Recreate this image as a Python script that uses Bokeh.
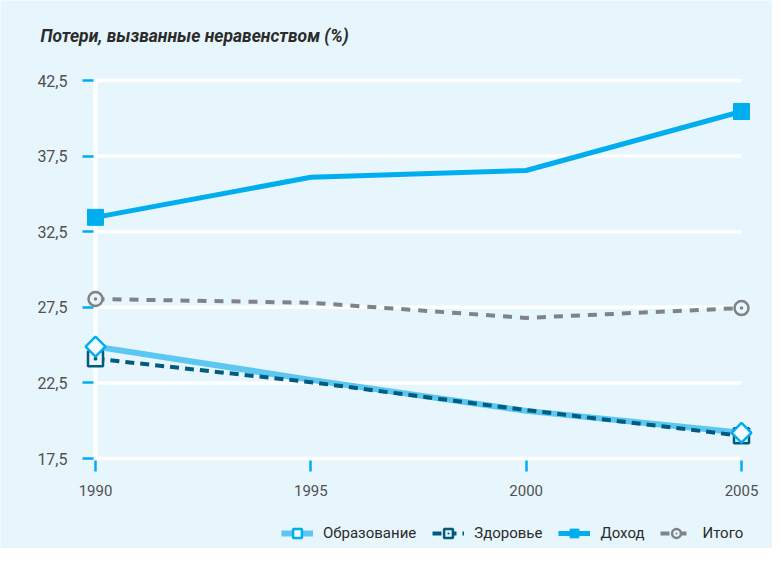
import math
from bokeh.plotting import figure
from bokeh.models import Range1d, LinearAxis, FixedTicker, Label, Legend, LegendItem
from bokeh.embed import file_html
from bokeh.resources import INLINE

# ---- data ----
years = [1990, 1995, 2000, 2005]
education = [24.9, 22.7, 20.65, 19.2]
health = [24.1, 22.55, 20.7, 19.0]
income = [33.45, 36.1, 36.55, 40.45]
total = [28.05, 27.8, 26.8, 27.45]
y_ticks = [17.5, 22.5, 27.5, 32.5, 37.5, 42.5]
y_tick_labels = ["17,5", "22,5", "27,5", "32,5", "37,5", "42,5"]
x_tick_labels = ["1990", "1995", "2000", "2005"]
series_names = ["Образование", "Здоровье", "Доход", "Итого"]
title_text = "Потери, вызванные неравенством (%)"

BG = "#E7F6FD"
CYAN = "#00AEEF"
LIGHT = "#5CC8F2"
DARK = "#005B7F"
GRAY = "#808285"
FONT = "Roboto"

W, H = 772, 548
px_per_year = 646 / 15.0
px_per_unit = 378 / 25.0
X1990, Y425, Y175 = 95, 80, 458
x0 = 1990 - X1990 / px_per_year
x1 = 1990 + (W - X1990) / px_per_year
y1 = 42.5 + Y425 / px_per_unit
y0 = 17.5 - (H - Y175) / px_per_unit

p = figure(width=W, height=H, output_backend="svg", toolbar_location=None,
           x_range=Range1d(x0, x1), y_range=Range1d(y0, y1),
           x_axis_location=None, y_axis_location=None,
           min_border=0, min_border_left=0, min_border_right=0,
           min_border_top=0, min_border_bottom=0)
p.background_fill_color = BG
p.border_fill_color = BG
p.outline_line_color = None
p.xgrid.visible = False
p.ygrid.visible = False

# grid lines limited to data extent
p.segment(x0=[years[0]] * len(y_ticks), x1=[years[-1]] * len(y_ticks),
          y0=y_ticks, y1=y_ticks, line_color="white", line_width=3.5)
p.segment(x0=[years[0]], x1=[years[0]], y0=[y_ticks[0]], y1=[y_ticks[-1]],
          line_color="white", line_width=4)

# axes
yaxis = LinearAxis(fixed_location=years[0], bounds=(y_ticks[0], y_ticks[-1]))
yaxis.ticker = FixedTicker(ticks=y_ticks)
yaxis.major_label_overrides = {t: l for t, l in zip(y_ticks, y_tick_labels)}
yaxis.axis_line_color = None
yaxis.major_tick_line_color = CYAN
yaxis.major_tick_line_width = 2.5
yaxis.major_tick_out = 13
yaxis.major_tick_in = -2
yaxis.minor_tick_line_color = None
yaxis.major_label_text_font = FONT
yaxis.major_label_text_font_size = "16px"
yaxis.major_label_text_color = "#505050"
yaxis.major_label_standoff = 15
p.add_layout(yaxis, "left")

xaxis = LinearAxis(fixed_location=y_ticks[0], bounds=(years[0], years[-1]))
xaxis.ticker = FixedTicker(ticks=years)
xaxis.major_label_overrides = {y: l for y, l in zip(years, x_tick_labels)}
xaxis.axis_line_color = None
xaxis.major_tick_line_color = CYAN
xaxis.major_tick_line_width = 2.5
xaxis.major_tick_out = 13
xaxis.major_tick_in = -2
xaxis.minor_tick_line_color = None
xaxis.major_label_text_font = FONT
xaxis.major_label_text_font_size = "15px"
xaxis.major_label_text_color = "#505050"
xaxis.major_label_standoff = 13
p.add_layout(xaxis, "below")

# series
l_inc = p.line(years, income, line_color=CYAN, line_width=5)
m_inc = p.scatter(years[::3], income[::3], marker="square", size=16,
                  fill_color=CYAN, line_color=CYAN)

l_tot = p.line(years, total, line_color=GRAY, line_width=4, line_dash="9 8")
m_tot = p.scatter(years[::3], total[::3], marker="circle_dot", size=14,
                  fill_color=BG, line_color=GRAY, line_width=2.5)

l_edu = p.line(years, education, line_color=LIGHT, line_width=6)
l_hea = p.line(years, health, line_color=DARK, line_width=4, line_dash="9 6")
m_hea = p.scatter(years[::3], health[::3], marker="square_dot", size=15,
                  fill_color=BG, line_color=DARK, line_width=2.5)
m_edu = p.scatter(years[::3], education[::3], marker="square", size=14,
                  angle=math.pi / 4, fill_color="#F4FBFF", line_color=CYAN,
                  line_width=2.5)

# title
p.add_layout(Label(x=40, y=H - 45, x_units="screen", y_units="screen",
                   text=title_text, text_font=FONT, text_font_size="17.5px",
                   text_font_style="bold italic", text_color="#2B2B2B"))

# legend
legend = Legend(items=[
    LegendItem(label=series_names[0], renderers=[l_edu, m_edu]),
    LegendItem(label=series_names[1], renderers=[l_hea, m_hea]),
    LegendItem(label=series_names[2], renderers=[l_inc, m_inc]),
    LegendItem(label=series_names[3], renderers=[l_tot, m_tot]),
], orientation="horizontal", location=(281, 4))
legend.background_fill_alpha = 0
legend.border_line_color = None
legend.label_text_font = FONT
legend.label_text_font_size = "15px"
legend.label_text_color = "#2B2B2B"
legend.glyph_width = 32
legend.glyph_height = 22
legend.label_standoff = 10
legend.spacing = 16
legend.padding = 0
legend.margin = 0
p.add_layout(legend, "center")

open("out.html", "w").write(file_html(p, INLINE))
